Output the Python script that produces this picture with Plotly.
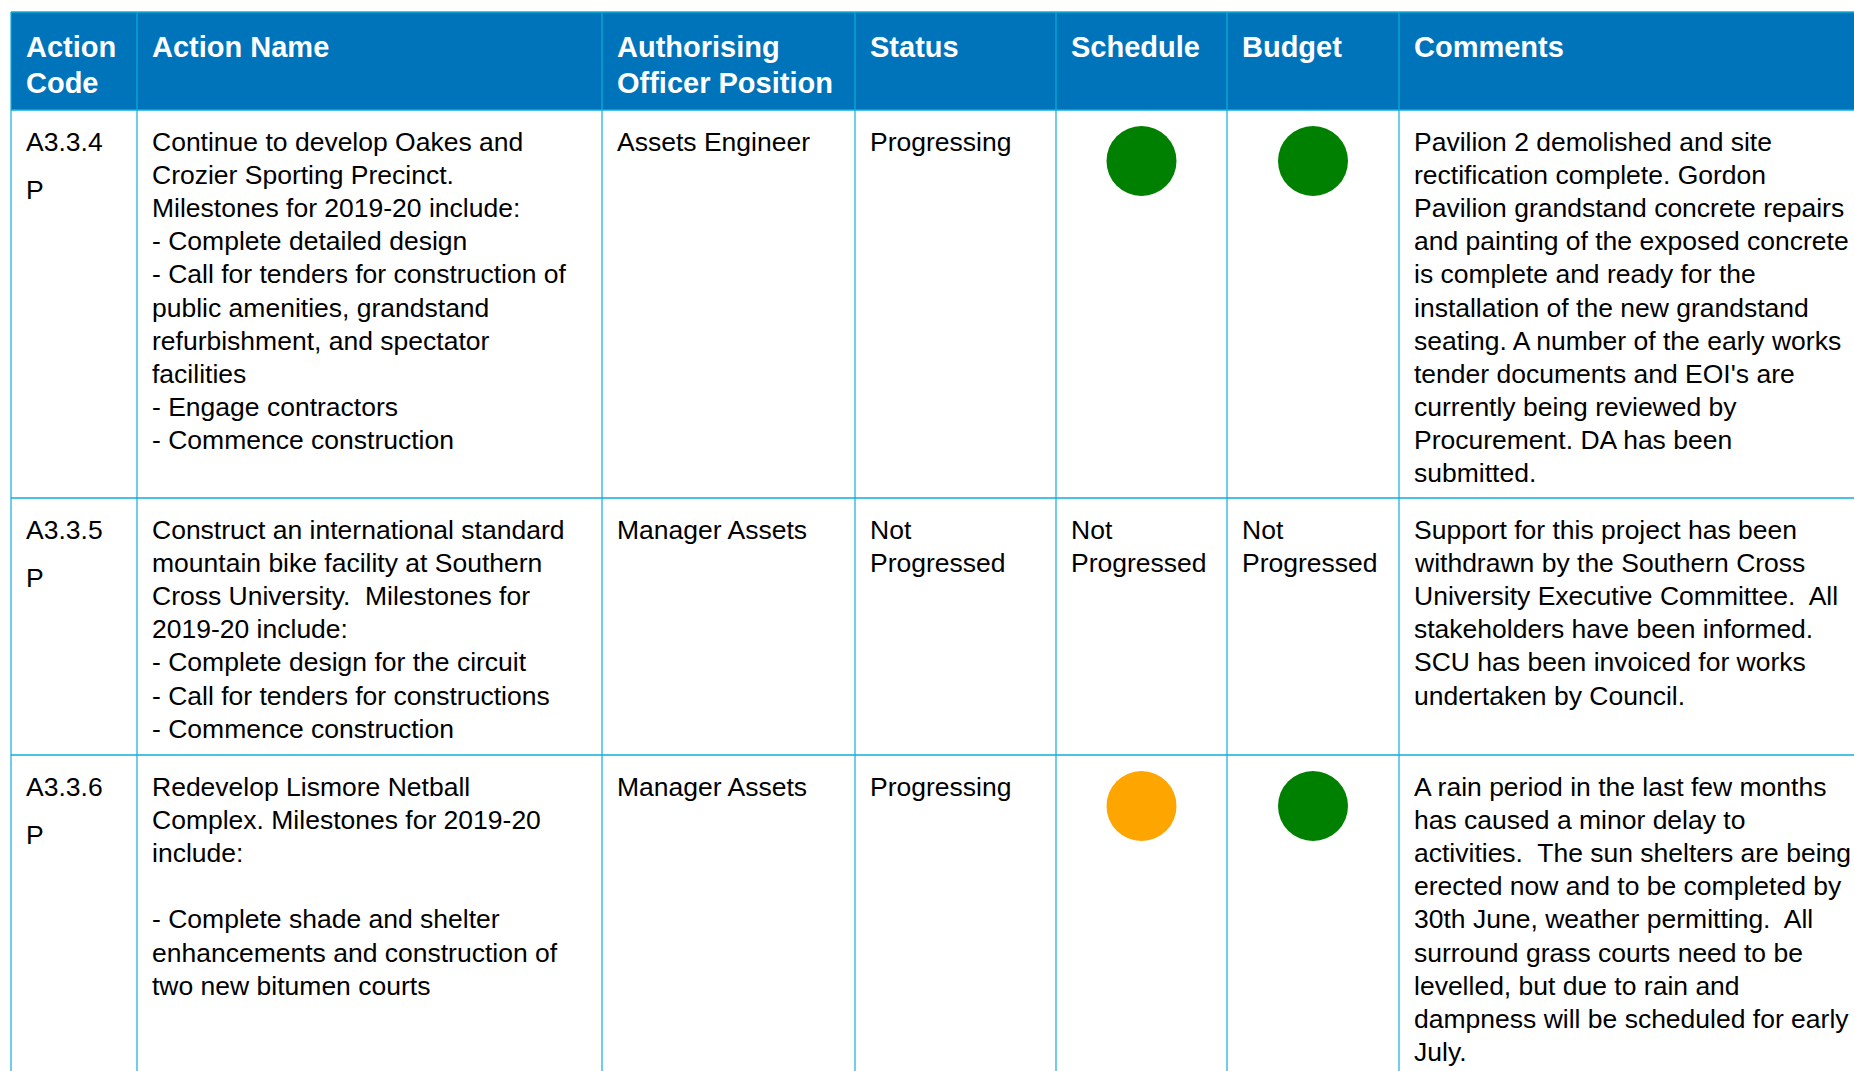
import plotly.graph_objects as go

# ---------------- data ----------------
headers = [["Action", "Code"], ["Action Name"], ["Authorising", "Officer Position"],
           ["Status"], ["Schedule"], ["Budget"], ["Comments"]]
codes = ["A3.3.4", "A3.3.5", "A3.3.6"]
code_suffix = ["P", "P", "P"]
action_names = [
    ["Continue to develop Oakes and", "Crozier Sporting Precinct.", "Milestones for 2019-20 include:",
     "- Complete detailed design", "- Call for tenders for construction of", "public amenities, grandstand",
     "refurbishment, and spectator", "facilities", "- Engage contractors", "- Commence construction"],
    ["Construct an international standard", "mountain bike facility at Southern",
     "Cross University.  Milestones for", "2019-20 include:", "- Complete design for the circuit",
     "- Call for tenders for constructions", "- Commence construction"],
    ["Redevelop Lismore Netball", "Complex. Milestones for 2019-20", "include:", "",
     "- Complete shade and shelter", "enhancements and construction of", "two new bitumen courts"],
]
officers = [["Assets Engineer"], ["Manager Assets"], ["Manager Assets"]]
statuses = [["Progressing"], ["Not", "Progressed"], ["Progressing"]]
schedule = ["Green", "Not Progressed", "Amber"]
budget = ["Green", "Not Progressed", "Green"]
comments = [
    ["Pavilion 2 demolished and site", "rectification complete. Gordon",
     "Pavilion grandstand concrete repairs", "and painting of the exposed concrete",
     "is complete and ready for the", "installation of the new grandstand",
     "seating. A number of the early works", "tender documents and EOI's are",
     "currently being reviewed by", "Procurement. DA has been", "submitted."],
    ["Support for this project has been", "withdrawn by the Southern Cross",
     "University Executive Committee.  All", "stakeholders have been informed.",
     "SCU has been invoiced for works", "undertaken by Council."],
    ["A rain period in the last few months", "has caused a minor delay to",
     "activities.  The sun shelters are being", "erected now and to be completed by",
     "30th June, weather permitting.  All", "surround grass courts need to be",
     "levelled, but due to rain and", "dampness will be scheduled for early", "July."],
]
rating_colors = {"Green": "#008000", "Amber": "#FFA500"}

# ---------------- layout (pixels) ----------------
W, H = 1854, 1071
col_edges = [11, 137, 602, 855, 1056, 1227, 1399, 1900]
row_edges = [12, 110, 498, 755, 1200]
pad_x = 13
first_line = 32
line_h = 33.1
head_first = 35
head_line = 35.5
header_blue = "#0074BB"
grid = "#0FAED8"
FONT = "Liberation Sans, Arial, sans-serif"
body_size = 26.5
head_size = 29

fig = go.Figure()
shapes = []
annotations = []

# header fill
shapes.append(dict(type="rect", xref="x", yref="y", x0=col_edges[0], x1=col_edges[-1],
                   y0=row_edges[0], y1=row_edges[1], fillcolor=header_blue, line_width=0, layer="below"))
# horizontal lines
for y in row_edges[:-1]:
    shapes.append(dict(type="line", xref="x", yref="y", x0=col_edges[0], x1=col_edges[-1],
                       y0=y, y1=y, line=dict(color=grid, width=1.3)))
# vertical lines
for x in col_edges[:-1]:
    shapes.append(dict(type="line", xref="x", yref="y", x0=x, x1=x,
                       y0=row_edges[0], y1=row_edges[-1], line=dict(color=grid, width=1.2)))


def add_lines(col, top, lines, size, color, bold=False, first=first_line, step=line_h):
    for i, t in enumerate(lines):
        if not t:
            continue
        txt = "<b>" + t + "</b>" if bold else t
        annotations.append(dict(x=col_edges[col] + pad_x, y=top + first + i * step, xref="x", yref="y",
                                text=txt.replace("  ", "\u00a0 "), showarrow=False, xanchor="left",
                                yanchor="middle", font=dict(family=FONT, size=size, color=color)))


for c, h in enumerate(headers):
    add_lines(c, row_edges[0], h, head_size, "white", bold=True, first=head_first, step=head_line)

cx, cy, cc = [], [], []
for r in range(3):
    top = row_edges[r + 1]
    add_lines(0, top, [codes[r]], body_size, "black")
    add_lines(0, top + 47.5, [code_suffix[r]], body_size, "black")
    add_lines(1, top, action_names[r], body_size, "black")
    add_lines(2, top, officers[r], body_size, "black")
    add_lines(3, top, statuses[r], body_size, "black")
    for col, val in ((4, schedule[r]), (5, budget[r])):
        if val in rating_colors:
            cx.append((col_edges[col] + col_edges[col + 1]) / 2)
            cy.append(top + 51)
            cc.append(rating_colors[val])
        else:
            add_lines(col, top, val.split(" "), body_size, "black")
    add_lines(6, top, comments[r], body_size, "black")

fig.add_trace(go.Scatter(x=cx, y=cy, mode="markers", hoverinfo="skip",
                         marker=dict(size=70, color=cc, line_width=0)))

fig.update_layout(width=W, height=H, margin=dict(l=0, r=0, t=0, b=0),
                  paper_bgcolor="white", plot_bgcolor="white", showlegend=False,
                  xaxis=dict(range=[0, W], visible=False, fixedrange=True),
                  yaxis=dict(range=[H, 0], visible=False, fixedrange=True),
                  shapes=shapes, annotations=annotations)

fig.write_html("out.html", config={"displayModeBar": False},
               post_script="document.body.style.margin='0';document.body.style.overflow='hidden';")
